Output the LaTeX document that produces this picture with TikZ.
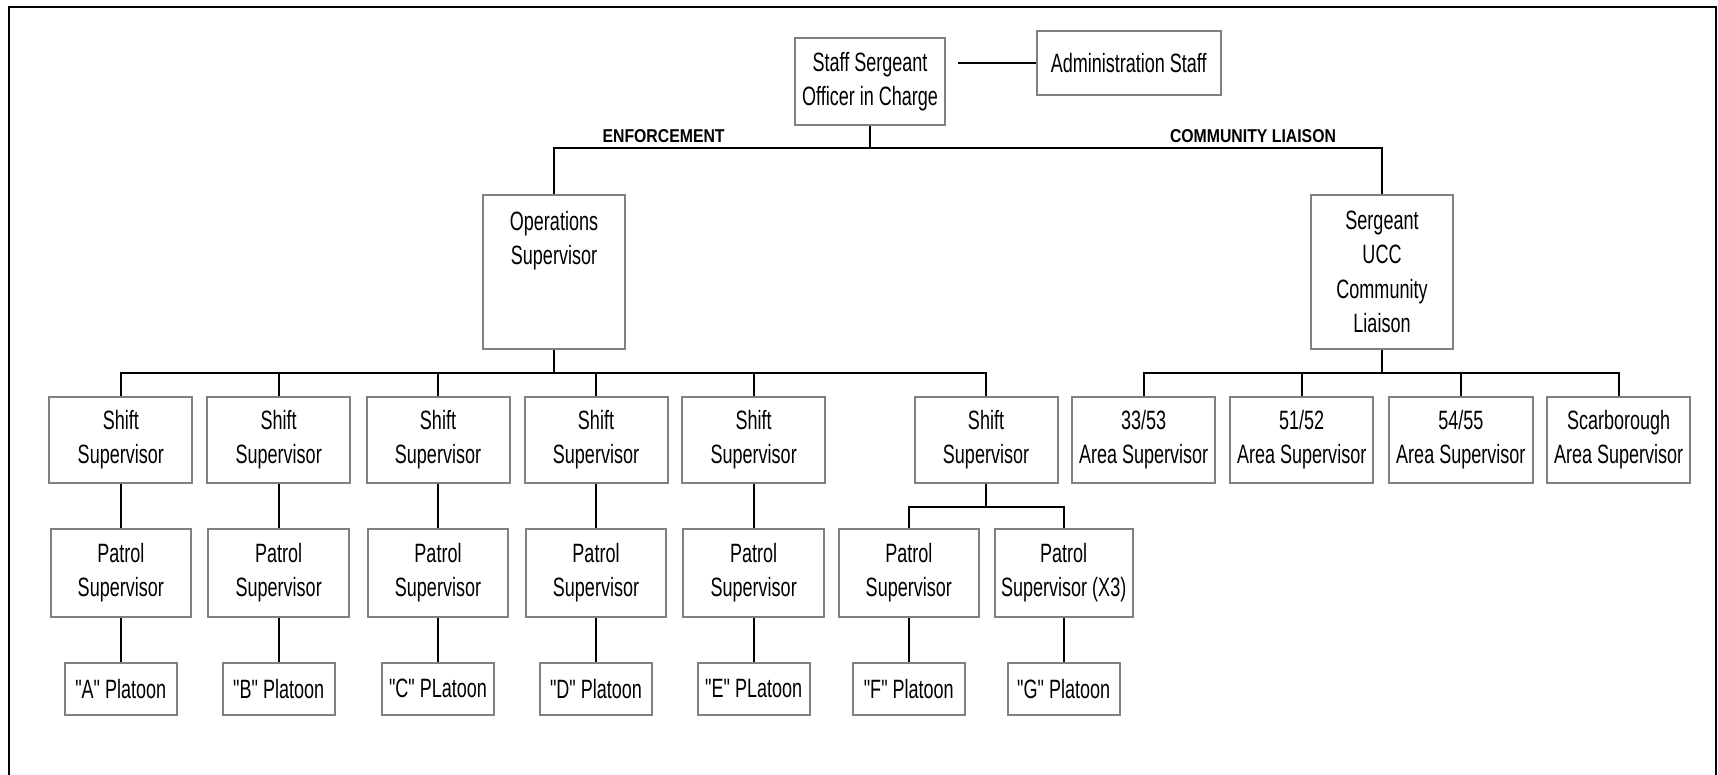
\documentclass[tikz,border=0pt]{standalone}
\usepackage{fontspec}
\setmainfont[FakeStretch=0.68]{Liberation Sans}
\newfontfamily\boxfont[FakeStretch=0.68]{Liberation Sans}
\newfontfamily\lblfont[FakeStretch=0.85]{Liberation Sans}
\definecolor{boxgray}{HTML}{808080}
\tikzset{
  orgbox/.style={draw=boxgray, line width=2pt, fill=white, inner sep=0pt, align=center,
    font=\boxfont\fontsize{26.5}{34.5}\selectfont},
  shiftbox/.style={orgbox, minimum width=143pt, minimum height=86pt},
  patrolbox/.style={orgbox, minimum width=140.5pt, minimum height=87.7pt},
  platoonbox/.style={orgbox, minimum width=112pt, minimum height=52.3pt},
  areabox/.style={orgbox, minimum width=143.5pt, minimum height=86pt},
  bigbox/.style={orgbox, minimum width=142.6pt, minimum height=154pt},
  txt/.style={inner sep=0pt, align=center, font=\boxfont\fontsize{26.5}{34.5}\selectfont},
  lbl/.style={inner sep=0pt, font=\lblfont\bfseries\fontsize{18.6}{22}\selectfont},
  conn/.style={line width=2pt, black},
}
\begin{document}
\begin{tikzpicture}[x=1pt,y=-1pt]
\useasboundingbox (0,0) rectangle (1718,775);
\clip (0,0) rectangle (1718,775);
\draw[line width=2pt] (9,800) -- (9,7) -- (1716,7) -- (1716,800);

% top
\node[orgbox, minimum width=150pt, minimum height=86.7pt] (staff) at (870,81.7) {Staff Sergeant\\Officer in Charge};
\node[orgbox, minimum width=184.4pt, minimum height=64pt] (admin) at (1128.7,63) {Administration Staff};
\coordinate (adm0) at (958,63);
\draw[conn] (adm0) -- (admin.west);

\node[bigbox] (ops) at (554,272) {};
\node[txt, anchor=north] (opstxt) at (554,211) {Operations\\Supervisor};
\node[bigbox] (serg) at (1382,272) {Sergeant\\UCC\\Community\\Liaison};

\coordinate (topbus) at (870,148.3);
\draw[conn] (staff) -- (topbus);
\draw[conn] (ops.north) |- (topbus) -| (serg.north);
\node[lbl, anchor=base] (enf) at (663.6,143) {ENFORCEMENT};
\node[lbl, anchor=base] (comm) at (1253,143) {COMMUNITY LIAISON};

% shift supervisors
\foreach \i/\x in {1/120.8,2/278.7,3/438,4/596,5/753.7,6/986}{
  \node[shiftbox] (s\i) at (\x,439.7) {Shift\\Supervisor};
}
\foreach \i/\x in {1/120.8,2/278.7,3/438,4/596,5/753.7,6/908.8}{
  \node[patrolbox] (p\i) at (\x,572.85) {Patrol\\Supervisor};
}
\node[patrolbox, minimum width=138.4pt] (p7) at (1063.7,572.85) {Patrol\\Supervisor (X3)};

\node[platoonbox] (t1) at (120.8,688.85) {"A" Platoon};
\node[platoonbox] (t2) at (278.7,688.85) {"B" Platoon};
\node[platoonbox] (t3) at (438,688.85) {"C" PLatoon};
\node[platoonbox] (t4) at (596,688.85) {"D" Platoon};
\node[platoonbox] (t5) at (753.7,688.85) {"E" PLatoon};
\node[platoonbox] (t6) at (908.8,688.85) {"F" Platoon};
\node[platoonbox] (t7) at (1063.7,688.85) {"G" Platoon};

\coordinate (opsbus) at (554,372.7);
\draw[conn] (ops.south) -- (opsbus);
\draw[conn] (s1.north) |- (opsbus) -| (s6.north);
\foreach \i in {2,3,4,5}{
  \draw[conn] (s\i.north) -- (s\i.north |- opsbus);
}
\foreach \i in {1,2,3,4,5}{
  \draw[conn] (s\i.south) -- (p\i.north);
}
\foreach \i in {1,2,3,4,5,6,7}{
  \draw[conn] (p\i.south) -- (t\i.north);
}
\coordinate (fbus) at (986,506.7);
\draw[conn] (s6.south) -- (fbus);
\draw[conn] (p6.north) |- (fbus) -| (p7.north);

% area supervisors
\node[areabox] (a1) at (1143.6,439.7) {33/53\\Area Supervisor};
\node[areabox] (a2) at (1301.7,439.7) {51/52\\Area Supervisor};
\node[areabox] (a3) at (1460.8,439.7) {54/55\\Area Supervisor};
\node[areabox] (a4) at (1618.6,439.7) {Scarborough\\Area Supervisor};
\coordinate (sergbus) at (1382,372.7);
\draw[conn] (serg.south) -- (sergbus);
\draw[conn] (a1.north) |- (sergbus) -| (a4.north);
\draw[conn] (a2.north) -- (a2.north |- sergbus);
\draw[conn] (a3.north) -- (a3.north |- sergbus);
\end{tikzpicture}
\end{document}
